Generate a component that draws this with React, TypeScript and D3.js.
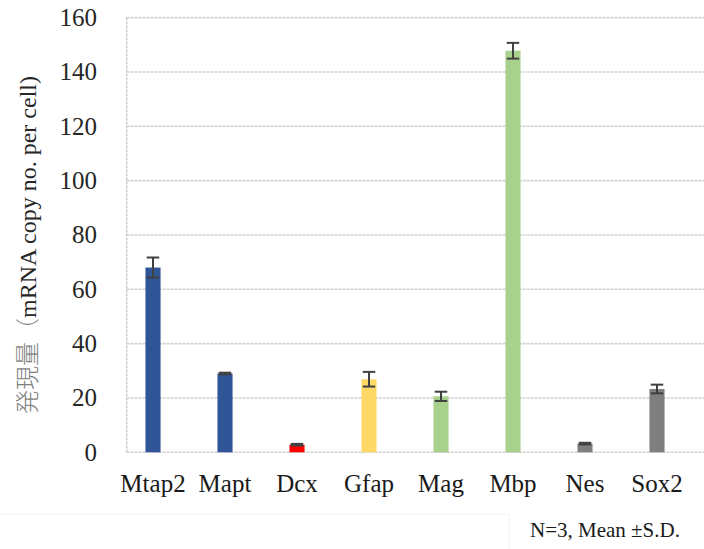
import React from "react";
import * as d3 from "d3";

const categories = ["Mtap2", "Mapt", "Dcx", "Gfap", "Mag", "Mbp", "Nes", "Sox2"];
const means = [68.0, 29.0, 2.8, 26.9, 20.6, 147.8, 3.2, 23.3];
const sds = [3.7, 0.3, 0.3, 2.7, 1.7, 2.9, 0.3, 1.6];
const barColors = ["#2f5597", "#2f5597", "#ff0000", "#ffd966", "#a9d18e", "#a9d18e", "#7f7f7f", "#7f7f7f"];
const yTicks = [0, 20, 40, 60, 80, 100, 120, 140, 160];

const W = 704;
const H = 549;

export default function App() {
  const x = d3.scaleBand<string>().domain(categories).range([117, 693]).paddingInner(0.79).paddingOuter(0.395);
  const y = d3.scaleLinear().domain([0, 160]).range([452.3, 17.6]);
  const plotLeft = 126.7;
  const plotRight = 704;
  const capW = 12.5;

  return (
    <svg width={W} height={H} fontFamily="serif" style={{ position: "absolute", left: 0, top: 0, background: "#fff" }}>
      <style>{`.tnr { font-family: "Liberation Serif", serif !important; }`}</style>
      <rect x={0} y={0} width={W} height={H} fill="#fff" />
      {yTicks.map((t) => (
        <line key={t} x1={plotLeft} x2={plotRight} y1={y(t)} y2={y(t)} stroke="#d0d0d0" strokeWidth={1.6} strokeDasharray="3,1" />
      ))}
      <line x1={plotLeft} x2={plotLeft} y1={y(160)} y2={y(0)} stroke="#d0d0d0" strokeWidth={1.6} strokeDasharray="3,1" />
      {categories.map((c, i) => (
        <rect key={c} x={x(c)} y={y(means[i])} width={x.bandwidth()} height={y(0) - y(means[i])} fill={barColors[i]} />
      ))}
      {categories.map((c, i) => {
        const cx = (x(c) as number) + x.bandwidth() / 2;
        const yt = y(means[i] + sds[i]);
        const yb = y(means[i] - sds[i]);
        return (
          <g key={c} stroke="#404040" strokeWidth={2}>
            <line x1={cx} x2={cx} y1={yt} y2={yb} />
            <line x1={cx - capW / 2} x2={cx + capW / 2} y1={yt} y2={yt} />
            <line x1={cx - capW / 2} x2={cx + capW / 2} y1={yb} y2={yb} />
          </g>
        );
      })}
      {yTicks.map((t) => (
        <text key={t} x={97} y={y(t) + 8.5} textAnchor="end" fontSize={25} fill="#262626">
          {t}
        </text>
      ))}
      {categories.map((c) => (
        <text key={c} className="tnr" x={(x(c) as number) + x.bandwidth() / 2} y={491.5} textAnchor="middle" fontSize={25} fill="#1a1a1a">
          {c}
        </text>
      ))}
      <text transform="translate(36,245) rotate(-90)" textAnchor="middle" fontSize={24} fill="#262626">
        <tspan fontFamily="Noto Sans CJK JP" fontWeight={300} fill="#7f7f7f">発現量（</tspan>
        <tspan>mRNA copy no. per cell)</tspan>
      </text>
      <line x1={0} x2={509} y1={514} y2={514} stroke="#f2f2f2" strokeWidth={1} />
      <line x1={509} x2={509} y1={514} y2={H} stroke="#f2f2f2" strokeWidth={1} />
      <text x={530} y={537} fontFamily="Times New Roman" fontSize={21} fill="#1a1a1a">
        N=3, Mean ±S.D.
      </text>
    </svg>
  );
}
